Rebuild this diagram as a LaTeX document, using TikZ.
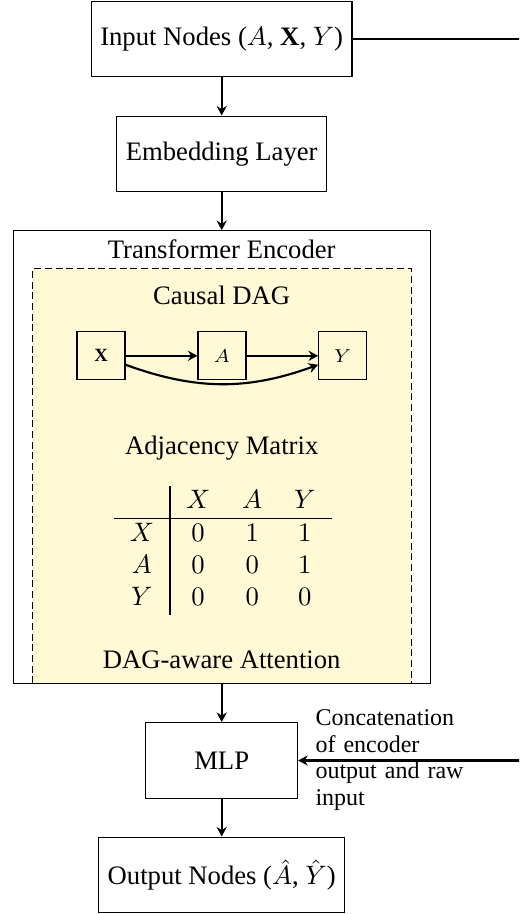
\documentclass[tikz,border=0pt]{standalone}
\usepackage{fontspec}
\setmainfont{Liberation Serif}
\usetikzlibrary{arrows.meta}
\definecolor{dagfill}{RGB}{255,249,214}
\begin{document}
\begin{tikzpicture}[x=0.375pt,y=-0.375pt,
  box/.style={draw, thin, minimum height=1cm, inner sep=3.33pt},
  conn/.style={-{Stealth[length=3.6pt,width=3.8pt,inset=1.2pt]}, thick},
  dagnode/.style={draw, thin, minimum size=18pt, inner sep=1pt, font=\scriptsize},
  lbl/.style={anchor=base, inner sep=0pt}]
\clip (0,0) rectangle (519,914);
\node[box] (in) at (221.7,39) {Input Nodes ($A$, $\mathbf{X}$, $Y$)};
\node[box] (emb) at (221.7,154) {Embedding Layer};
\node[draw, thin, minimum width=156.3pt, minimum height=169.7pt, inner sep=0pt] (enc) at (221.7,457) {};
\node[draw, thin, dash pattern=on 2.6pt off 1.4pt, fill=dagfill, minimum width=141.9pt, minimum height=155.4pt, inner sep=0pt] (dagbox) at (221.85,476.15) {};
\node[lbl] (enctitle) at (221.7,258) {Transformer Encoder};
\node[lbl] (dagtitle) at (221.7,304) {Causal DAG};
\node[dagnode] (X) at (101,355.8) {$\mathbf{X}$};
\node[dagnode] (A) at (222,355.8) {$A$};
\node[dagnode] (Y) at (342.7,355.8) {$Y$};
\draw[conn] (X) -- (A);
\draw[conn] (A) -- (Y);
\draw[conn] (X) to[bend right=20] (Y);
\node[lbl] (adjtitle) at (221.7,454.5) {Adjacency Matrix};
\node[anchor=north west, inner sep=0pt] (adj) at (113.3,485.6) {\begin{tabular}{c|ccc} & $X$ & $A$ & $Y$\\\hline $X$ & $0$ & $1$ & $1$\\ $A$ & $0$ & $0$ & $1$\\ $Y$ & $0$ & $0$ & $0$\end{tabular}};
\node[lbl] (attn) at (221.7,668) {DAG-aware Attention};
\node[box, minimum width=2cm] (mlp) at (221.7,760.5) {MLP};
\node[box] (out) at (221.7,875) {Output Nodes ($\hat{A}$, $\hat{Y}$)};
\coordinate (far) at (560,0);
\draw[conn] (in) -- (emb);
\draw[conn] (emb) -- (enc);
\draw[conn] (enc) -- (mlp);
\draw[conn] (mlp) -- (out);
\draw[conn] (in.east) -- (in.east -| far) -- (far |- mlp.east) -- (mlp.east);
\node[anchor=west, text width=2cm, align=left, inner sep=0pt, font=\fontsize{9}{10}\selectfont] (concat) at (315,760) {Concatenation of encoder output and raw input};
\end{tikzpicture}
\end{document}
